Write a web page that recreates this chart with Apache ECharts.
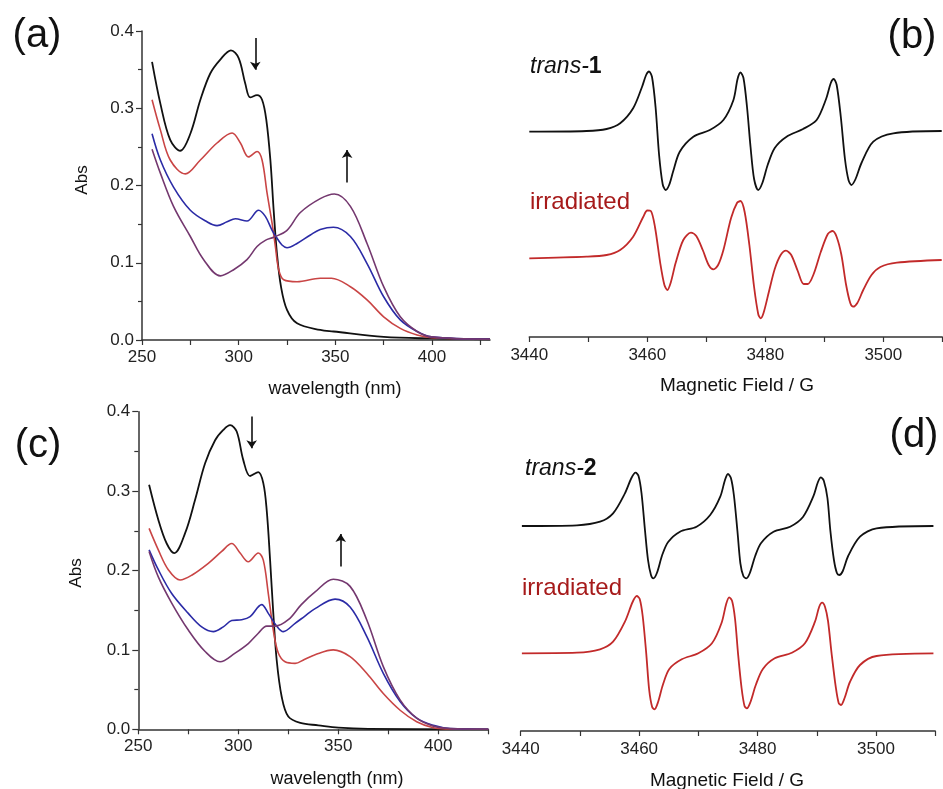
<!DOCTYPE html>
<html>
<head>
<meta charset="utf-8">
<script src="https://cdn.jsdelivr.net/npm/echarts@6/dist/echarts.min.js"></script>
<style>
html,body{margin:0;padding:0;background:#fff;}
#main{width:943px;height:789px;}
</style>
</head>
<body>
<div id="main"></div>
<script>
// ---------- Panel (a): UV-vis, trans-1 ----------
var uvA_black = [[255.2,0.360],[259.5,0.306],[264.6,0.259],[269.8,0.245],[275,0.267],[280.2,0.311],[285.3,0.345],[290.5,0.363],[296,0.375],[300,0.365],[303.4,0.332],[306,0.314],[309.5,0.317],[312.1,0.311],[314.3,0.285],[316.4,0.233],[318.1,0.168],[319.8,0.112],[321.9,0.069],[325,0.039],[330.2,0.0216],[342.2,0.013],[349.1,0.011],[375,0.004],[399.7,0.002],[430,0.001]];
var uvA_red = [[255.2,0.311],[259.5,0.272],[264.6,0.233],[272.4,0.215],[280.2,0.233],[288.8,0.255],[296.6,0.268],[300.9,0.255],[305.1,0.237],[309.5,0.244],[312.1,0.233],[314.7,0.190],[317.3,0.151],[319,0.121],[320.7,0.091],[323.3,0.078],[330.2,0.0755],[342.2,0.080],[348,0.080],[357.8,0.069],[366.4,0.052],[375,0.030],[383.6,0.015],[392.3,0.0065],[399.7,0.003],[430,0.001]];
var uvA_blue = [[255.2,0.267],[259.5,0.233],[266.3,0.198],[275,0.168],[283.6,0.153],[288.8,0.148],[294,0.153],[298.3,0.157],[304.3,0.154],[310.3,0.168],[313.8,0.160],[317.3,0.142],[319.5,0.133],[322.4,0.123],[325,0.1195],[330.2,0.125],[337.1,0.136],[342.2,0.143],[349,0.146],[357.8,0.134],[366.4,0.099],[375,0.056],[383.6,0.026],[392.3,0.011],[399.7,0.004],[430,0.001]];
var uvA_purple = [[255.2,0.247],[259.5,0.216],[266.3,0.173],[275,0.134],[281.9,0.104],[290.5,0.083],[297.4,0.091],[304.3,0.104],[309.5,0.121],[313.8,0.129],[318.1,0.133],[325,0.142],[331.9,0.165],[342.2,0.183],[349.5,0.189],[357.8,0.173],[366.4,0.125],[375,0.069],[383.6,0.030],[392.3,0.011],[399.7,0.004],[430,0.001]];
var arrowsA = [[[308.6,0.391],[308.6,0.350]],[[356.1,0.204],[356.1,0.246]]];

// ---------- Panel (c): UV-vis, trans-2 ----------
var uvC_black = [[255.4,0.308],[260,0.264],[264.2,0.234],[268,0.222],[273.4,0.247],[278.4,0.289],[283.4,0.335],[288.4,0.364],[292.5,0.377],[295.9,0.383],[299.2,0.375],[302.5,0.339],[305.9,0.319],[310,0.324],[312.5,0.310],[314.2,0.276],[315.9,0.213],[317.5,0.146],[319.2,0.087],[321.7,0.041],[325,0.016],[331,0.008],[340,0.005],[350,0.002],[365,0.0005],[425,0]];
var uvC_red = [[255.4,0.253],[260,0.226],[265,0.201],[270.9,0.188],[276.7,0.194],[285,0.209],[291.7,0.224],[296.7,0.234],[300.9,0.222],[305,0.211],[310,0.222],[312.5,0.213],[315,0.171],[317.5,0.125],[320,0.096],[323.4,0.085],[328.4,0.083],[333,0.088],[338.4,0.094],[347.5,0.100],[355.9,0.0915],[364.2,0.0705],[372.5,0.045],[380.9,0.024],[389.2,0.0096],[397.5,0.002],[405,0.0005],[425,0]];
var uvC_blue = [[255.4,0.226],[260,0.201],[266.7,0.171],[275,0.146],[281.7,0.129],[287.5,0.123],[292.5,0.129],[296.7,0.137],[301.7,0.138],[305.9,0.142],[311.7,0.157],[315,0.146],[319.2,0.130],[322.5,0.123],[328.4,0.1335],[333,0.142],[338.4,0.152],[348.4,0.164],[355.9,0.154],[364.2,0.117],[372.5,0.0705],[380.9,0.035],[389.2,0.014],[397.5,0.005],[405.9,0.001],[425,0]];
var uvC_purple = [[255.4,0.224],[260,0.192],[266.7,0.159],[275,0.125],[283.4,0.098],[290.9,0.085],[298.4,0.096],[305,0.108],[310,0.121],[314.2,0.130],[318.4,0.130],[325,0.138],[331.5,0.157],[338.4,0.173],[347.5,0.189],[355.9,0.180],[364.2,0.138],[372.5,0.079],[380.9,0.037],[389.2,0.014],[397.5,0.004],[405.9,0.001],[425,0]];
var arrowsC = [[[306.7,0.394],[306.7,0.354]],[[351.2,0.205],[351.2,0.246]]];

// ---------- Panel (b): EPR trans-1 (a.u.) ----------
var eprB_trans = [[3440,2.053],[3449.7,2.06],[3453.1,2.08],[3455.4,2.137],[3457.6,2.287],[3459.1,2.50],[3459.8,2.62],[3460.3,2.655],[3460.8,2.60],[3461.4,2.30],[3462.0,1.82],[3462.6,1.53],[3463.1,1.47],[3463.7,1.52],[3464.4,1.66],[3465.5,1.853],[3467.8,2.003],[3470.6,2.07],[3472.9,2.17],[3474.6,2.37],[3475.3,2.58],[3475.8,2.645],[3476.3,2.59],[3476.9,2.30],[3477.5,1.90],[3478.1,1.58],[3478.8,1.47],[3479.5,1.54],[3480.4,1.72],[3481.6,1.89],[3483.6,2.003],[3486.4,2.08],[3488.7,2.17],[3490.3,2.38],[3491.1,2.54],[3491.6,2.58],[3492.1,2.52],[3492.8,2.20],[3493.5,1.78],[3494.1,1.57],[3494.6,1.52],[3495.3,1.58],[3496.3,1.74],[3498.3,1.953],[3501.7,2.037],[3509.9,2.06]];
var eprB_irr = [[3440,0.787],[3449.7,0.803],[3453.1,0.82],[3455.4,0.87],[3457.6,1.003],[3459.3,1.20],[3460.0,1.265],[3460.6,1.26],[3461.3,1.10],[3462.2,0.737],[3462.9,0.52],[3463.4,0.47],[3464.0,0.55],[3464.8,0.74],[3466.1,0.97],[3467.4,1.043],[3468.3,1.01],[3469.4,0.87],[3470.4,0.72],[3471.2,0.677],[3472.0,0.72],[3472.9,0.87],[3474.2,1.19],[3475.2,1.34],[3475.8,1.36],[3476.5,1.25],[3477.3,0.92],[3478.1,0.50],[3478.8,0.23],[3479.2,0.187],[3479.7,0.24],[3480.6,0.45],[3481.6,0.68],[3482.6,0.82],[3483.5,0.863],[3484.4,0.82],[3485.5,0.66],[3486.5,0.53],[3487.2,0.53],[3488.2,0.63],[3489.4,0.85],[3490.6,1.03],[3491.4,1.06],[3492.1,1.00],[3492.9,0.82],[3493.7,0.52],[3494.4,0.34],[3494.9,0.303],[3495.6,0.34],[3496.6,0.47],[3498.0,0.62],[3499.5,0.70],[3502.3,0.743],[3509.9,0.77]];

// ---------- Panel (d): EPR trans-2 (a.u.) ----------
var eprD_trans = [[3440.2,2.05],[3449.5,2.057],[3453.4,2.093],[3455.6,2.177],[3457.6,2.377],[3458.7,2.53],[3459.4,2.583],[3459.9,2.55],[3460.4,2.38],[3461.0,2.00],[3461.5,1.71],[3462.0,1.56],[3462.4,1.527],[3463.0,1.58],[3463.9,1.76],[3464.9,1.89],[3466.9,1.993],[3469.7,2.043],[3472,2.16],[3473.7,2.343],[3474.5,2.51],[3475.0,2.57],[3475.5,2.53],[3476.0,2.36],[3476.6,2.00],[3477.1,1.677],[3477.6,1.55],[3478.1,1.527],[3478.7,1.58],[3479.6,1.75],[3480.6,1.88],[3482.7,1.993],[3485.5,2.043],[3487.7,2.143],[3489.4,2.343],[3490.2,2.49],[3490.7,2.537],[3491.2,2.50],[3491.8,2.33],[3492.3,2.00],[3492.9,1.71],[3493.4,1.58],[3493.8,1.56],[3494.4,1.60],[3495.3,1.75],[3497.3,1.943],[3500.1,2.027],[3509.7,2.05]];
var eprD_irr = [[3440.2,0.777],[3449.5,0.783],[3453.4,0.817],[3455.6,0.893],[3457.6,1.093],[3458.9,1.29],[3459.6,1.35],[3460.1,1.32],[3460.6,1.15],[3461.2,0.777],[3461.7,0.41],[3462.2,0.24],[3462.6,0.217],[3463.2,0.29],[3464.0,0.46],[3465.1,0.62],[3467.2,0.717],[3470,0.777],[3472.3,0.877],[3473.9,1.077],[3474.7,1.27],[3475.2,1.337],[3475.7,1.30],[3476.2,1.12],[3476.7,0.777],[3477.3,0.43],[3477.8,0.25],[3478.2,0.227],[3478.8,0.29],[3479.7,0.46],[3480.9,0.62],[3482.9,0.727],[3485.8,0.783],[3488,0.877],[3489.7,1.093],[3490.4,1.24],[3490.9,1.283],[3491.4,1.24],[3491.9,1.10],[3492.5,0.777],[3493.2,0.443],[3493.7,0.28],[3494.1,0.26],[3494.7,0.33],[3495.6,0.49],[3497.3,0.66],[3500.1,0.75],[3509.7,0.777]];

// ---------- Tick values ----------
var uvTicksA = [250,275,300,325,350,375,400,425];
var uvLabels = [250,300,350,400];
var eprTicks = [3440,3450,3460,3470,3480,3490,3500,3510];
var eprLabels = [3440,3460,3480,3500];

var FONT = '"Liberation Sans", Arial, sans-serif';
var AX = '#333';
var C_BLACK = '#111111', C_RED = '#c94545', C_BLUE = '#2b2ba6', C_PURPLE = '#74386f', C_EPRRED = '#c22a2a';

function uvX(idx, max) {
  return {
    type: 'value', gridIndex: idx, min: 250, max: max, interval: 25,
    axisLine: {show: true, lineStyle: {color: AX, width: 1.5}},
    axisTick: {show: true, inside: false, length: 5, lineStyle: {color: AX, width: 1.2}, customValues: uvTicksA},
    axisLabel: {show: true, margin: 9, color: '#222', fontSize: 17, fontFamily: FONT, customValues: uvLabels,
      formatter: function (v) { return (v % 50 === 0) ? String(v) : ''; }},
    splitLine: {show: false}
  };
}
function uvY(idx) {
  return {
    type: 'value', gridIndex: idx, min: 0, max: 0.4, interval: 0.1,
    axisLine: {show: true, lineStyle: {color: AX, width: 1.5}},
    axisTick: {show: true, length: 6, lineStyle: {color: AX, width: 1.2}},
    minorTick: {show: true, splitNumber: 2, length: 4, lineStyle: {color: AX, width: 1.2}},
    axisLabel: {margin: 8, color: '#222', fontSize: 17, fontFamily: FONT, formatter: function (v) { return v.toFixed(1); }},
    splitLine: {show: false}, minorSplitLine: {show: false}
  };
}
function eprX(idx) {
  return {
    type: 'value', gridIndex: idx, min: 3440, max: 3510, interval: 10,
    axisLine: {show: true, lineStyle: {color: AX, width: 1.5}},
    axisTick: {show: true, length: 5, lineStyle: {color: AX, width: 1.2}, customValues: eprTicks},
    axisLabel: {margin: 10, color: '#222', fontSize: 17, fontFamily: FONT, customValues: eprLabels,
      formatter: function (v) { return (v % 20 === 0) ? String(v) : ''; }},
    splitLine: {show: false}
  };
}
function eprY(idx, max) {
  return {type: 'value', gridIndex: idx, min: 0, max: max, show: false, splitLine: {show: false}};
}
function line(idx, data, color, w, sm) {
  return {type: 'line', xAxisIndex: idx, yAxisIndex: idx, data: data, showSymbol: false, symbol: 'none',
    smooth: sm, lineStyle: {color: color, width: w}, silent: true, z: 3};
}
function arrowMarks(arrows) {
  return {
    silent: true, symbol: ['none', 'arrow'], symbolSize: 8, animation: false,
    lineStyle: {color: '#111', width: 1.6, type: 'solid'}, label: {show: false},
    data: arrows.map(function (a) { return [{coord: a[0]}, {coord: a[1]}]; })
  };
}

var sA = line(0, uvA_black, C_BLACK, 1.8, 0.35); sA.markLine = arrowMarks(arrowsA);
var sC = line(2, uvC_black, C_BLACK, 1.8, 0.35); sC.markLine = arrowMarks(arrowsC);

function txt(x, y, text, size, opts) {
  opts = opts || {};
  return {type: 'text', x: x, y: y, rotation: opts.rot || 0, silent: true,
    style: {text: text, font: size + 'px ' + FONT, fill: opts.color || '#111',
      align: opts.align || 'center', verticalAlign: 'middle'}};
}
function richLabel(x, y, a, b) {
  return {type: 'text', x: x, y: y, silent: true, style: {text: '{i|' + a + '}{b|' + b + '}', verticalAlign: 'middle', align: 'left',
    rich: {i: {font: 'italic 23px ' + FONT, fill: '#111'}, b: {font: 'bold 23px ' + FONT, fill: '#111'}}}};
}

var chart = echarts.init(document.getElementById('main'), null, {renderer: 'canvas'});
chart.setOption({
  backgroundColor: '#ffffff',
  animation: false,
  grid: [
    {left: 142, top: 31, width: 348, height: 309},
    {left: 529.3, top: 50, width: 413, height: 287},
    {left: 138.3, top: 411.7, width: 350, height: 317.6},
    {left: 520.7, top: 400, width: 414.5, height: 331}
  ],
  xAxis: [uvX(0, 430), eprX(1), uvX(2, 425), eprX(3)],
  yAxis: [uvY(0), eprY(1, 2.87), uvY(2), eprY(3, 3.31)],
  series: [
    sA,
    line(0, uvA_red, C_RED, 1.6, 0.35),
    line(0, uvA_blue, C_BLUE, 1.6, 0.35),
    line(0, uvA_purple, C_PURPLE, 1.6, 0.35),
    line(1, eprB_trans, C_BLACK, 1.8, 0.3),
    line(1, eprB_irr, C_EPRRED, 1.8, 0.3),
    sC,
    line(2, uvC_red, C_RED, 1.6, 0.35),
    line(2, uvC_blue, C_BLUE, 1.6, 0.35),
    line(2, uvC_purple, C_PURPLE, 1.6, 0.35),
    line(3, eprD_trans, C_BLACK, 1.8, 0.3),
    line(3, eprD_irr, C_EPRRED, 1.8, 0.3)
  ],
  graphic: [
    txt(37, 36, '(a)', 40),
    txt(912, 37, '(b)', 40),
    txt(38, 446, '(c)', 40),
    txt(914, 436, '(d)', 40),
    txt(82, 180, 'Abs', 17, {rot: Math.PI / 2}),
    txt(76, 573, 'Abs', 17, {rot: Math.PI / 2}),
    txt(335, 389, 'wavelength (nm)', 18),
    txt(337, 779, 'wavelength (nm)', 18),
    txt(737, 386, 'Magnetic Field / G', 19),
    txt(727, 781, 'Magnetic Field / G', 19),
    richLabel(530, 67, 'trans-', '1'),
    txt(530, 202, 'irradiated', 24, {align: 'left', color: '#a61a1a'}),
    richLabel(525, 469, 'trans-', '2'),
    txt(522, 588, 'irradiated', 24, {align: 'left', color: '#a61a1a'})
  ]
});
</script>
</body>
</html>
